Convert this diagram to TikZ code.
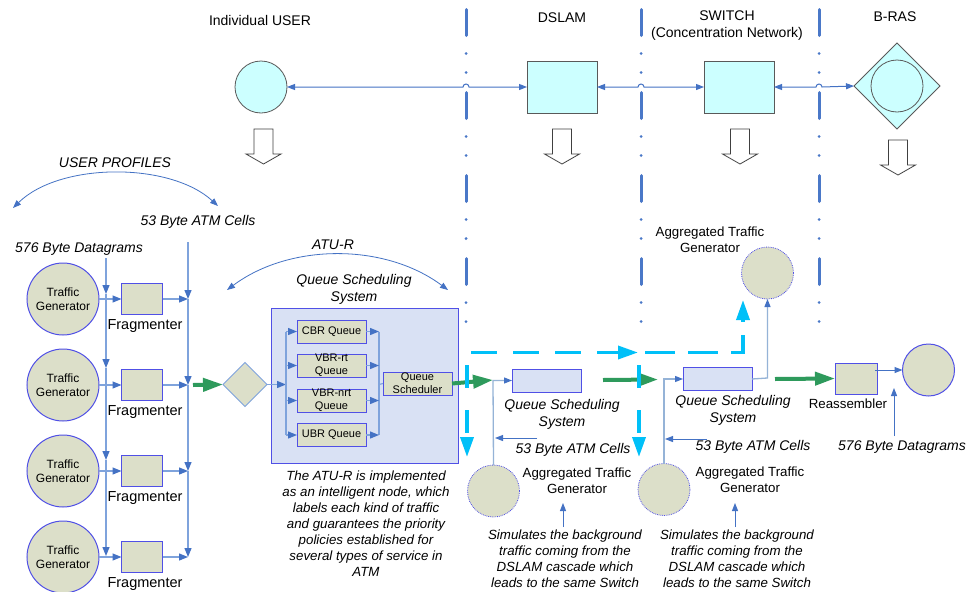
\documentclass[tikz,border=0pt]{standalone}
\usepackage{fontspec}
\setmainfont{Liberation Sans}
\usetikzlibrary{arrows.meta,shapes.geometric}
\definecolor{conn}{HTML}{4472C4}
\definecolor{lconn}{HTML}{7FA3DC}
\definecolor{aggc}{HTML}{95B3D7}
\definecolor{beige}{HTML}{DCDFC9}
\definecolor{nodeb}{HTML}{5050E6}
\definecolor{lav}{HTML}{D9E1F4}
\definecolor{cyanfill}{HTML}{CCFFFF}
\definecolor{cyanln}{HTML}{00C0F8}
\definecolor{greenln}{HTML}{2E9A5C}
\definecolor{bndry}{HTML}{4A78C8}
\begin{document}
\begin{tikzpicture}[x=1pt,y=-1pt,
  every node/.style={inner sep=0pt,outer sep=0pt},
  lbl/.style={font=\fontsize{14}{17}\selectfont,align=center},
  itl/.style={font=\fontsize{14}{17}\selectfont\itshape,align=center},
  itls/.style={font=\fontsize{13.3}{16}\selectfont\itshape,align=center},
  topcirc/.style={circle,draw=black!65,fill=cyanfill,minimum size=52pt,line width=0.8pt},
  topbox/.style={rectangle,draw=black!65,fill=cyanfill,minimum width=70pt,minimum height=52pt,line width=0.8pt},
  brasdia/.style={diamond,aspect=1,draw=black!65,fill=cyanfill,minimum width=86pt,minimum height=86pt,line width=0.8pt},
  tgen/.style={circle,draw=nodeb,fill=beige,minimum size=72pt,line width=1pt,font=\fontsize{12}{14}\selectfont,align=center},
  fragbox/.style={rectangle,draw=nodeb,fill=beige,minimum width=41pt,minimum height=31pt,line width=1pt},
  qbox/.style={rectangle,draw=nodeb,fill=beige,minimum width=69pt,minimum height=23pt,line width=1pt,font=\fontsize{11}{13}\selectfont,align=center},
  qssbox/.style={rectangle,draw=nodeb,fill=lav,minimum width=69pt,minimum height=23pt,line width=1pt},
  agen/.style={circle,draw=nodeb,densely dotted,fill=beige,minimum size=52pt,line width=0.8pt},
  endcirc/.style={circle,draw=nodeb,fill=beige,minimum size=52pt,line width=1pt},
  smalldia/.style={diamond,aspect=1,draw=lconn,fill=beige,minimum width=44pt,minimum height=44pt,line width=1pt},
  atubox/.style={rectangle,draw=nodeb,fill=lav,minimum width=187pt,minimum height=155pt,line width=1pt},
  cn/.style={draw=conn,line width=1pt},
  cna/.style={cn,-{Triangle[length=8pt,width=6pt]}},
  cnb/.style={cn,{Triangle[length=8pt,width=6pt]}-{Triangle[length=8pt,width=6pt]}},
  ln/.style={draw=lconn,line width=1.2pt},
  lna/.style={ln,-{Triangle[length=9pt,width=7pt,color=conn]}},
  ag/.style={draw=aggc,line width=1.3pt},
  aga/.style={ag,-{Triangle[length=8pt,width=6pt,color=conn]}},
  garrow/.style={draw=greenln,line width=4pt,-{Triangle[length=20pt,width=13pt]}},
  cyd/.style={draw=cyanln,line width=3.5pt,dash pattern=on 26pt off 16pt},
  cyda/.style={cyd,-{Triangle[length=20pt,width=13pt]}},
  bline/.style={draw=bndry,line width=3pt,line cap=round,dash pattern=on 26pt off 18pt on 0pt off 19pt on 0pt off 20pt},
  downarr/.pic={\draw[fill=white,draw=black!75,line width=0.8pt] (-9.5,0) -- (9.5,0) -- (9.5,25) -- (17.5,25) -- (0,35) -- (-17.5,25) -- (-9.5,25) -- cycle;}
]
\useasboundingbox (0,0) rectangle (970,592);
\fill[white] (0,0) rectangle (970,592);

% boundary lines
\draw[bline] (466,9.5) -- (466,322);
\draw[bline] (641,9.5) -- (641,322);
\draw[bline] (819,9.5) -- (819,322);

% top row
\node[lbl] (tuser) at (260,20) {Individual USER};
\node[lbl] (tdslam) at (562,18) {DSLAM};
\node[lbl] (tswitch) at (727,25.5) {SWITCH\\(Concentration Network)};
\node[lbl] (tbras) at (895,17) {B-RAS};

\node[topcirc] (user) at (261,87) {};
\node[topbox] (dslam) at (562,87) {};
\node[topbox] (switch) at (739,87) {};
\node[brasdia] (bras) at (897,86) {};
\node[circle,draw=black!65,line width=0.8pt,minimum size=52pt] (brasc) at (897,86) {};

\draw[cnb] (user.east) -- (463,87) arc[start angle=180,end angle=0,radius=3pt] -- (dslam.west);
\draw[cnb] (dslam.east) -- (638,87) arc[start angle=180,end angle=0,radius=3pt] -- (switch.west);
\draw[cnb] (switch.east) -- (816,87) arc[start angle=180,end angle=0,radius=3pt] -- (bras.west);

\pic at (263.5,129) {downarr};
\pic at (562,129) {downarr};
\pic at (740,129) {downarr};
\pic at (898,140) {downarr};

% user profiles
\node[itl] (tprof) at (115,163) {USER PROFILES};
\coordinate (up1) at (13,208);
\coordinate (up2) at (218,206);
\draw[cnb,line width=0.8pt] (up1) .. controls (60,162) and (170,162) .. (up2);
\node[itl] (atm1) at (198,222) {53 Byte ATM Cells};
\node[itl] (dg1) at (79,249) {576 Byte Datagrams};

% traffic generators and fragmenters
\foreach \i/\y in {1/299,2/385,3/471,4/557}{
  \node[tgen] (tg\i) at (63,\y) {Traffic\\Generator};
  \node[fragbox] (f\i) at (142,\y) {};
  \node[lbl,font=\fontsize{14.5}{17}\selectfont] (fl\i) at (145,\y+27) {Fragmenter};
  \draw[lna] (tg\i.east) -- (f\i.west);
  \coordinate (r\i) at (188,\y);
  \draw[lna] (f\i.east) -- (r\i);
}
\coordinate (vl0) at (106,258);
\draw[lna] (vl0) -- (106,294);
\draw[lna] (106,294) -- (106,368);
\draw[lna] (106,368) -- (106,460);
\draw[lna] (106,460) -- (106,556);
\coordinate (vr0) at (188,242);
\draw[lna] (vr0) -- (r1);
\draw[lna] (r1) -- (r2);
\draw[lna] (r2) -- (r3);
\draw[lna] (r3) -- (r4);

% green into diamond
\node[smalldia] (dia) at (245,384.5) {};
\coordinate (g1s) at (193,385);
\draw[garrow] (g1s) -- (dia.west);

% ATU-R
\node[itl] (tatur) at (333,245) {ATU-R};
\coordinate (at1) at (227,290);
\coordinate (at2) at (448,290);
\draw[cnb,line width=0.8pt] (at1) .. controls (290,243) and (385,243) .. (at2);
\node[itl] (tqss) at (354,289) {Queue Scheduling\\System};
\node[atubox] (atu) at (364.5,385.5) {};
\node[qbox] (q1) at (331.5,331.5) {CBR Queue};
\node[qbox] (q2) at (331.5,365.5) {VBR-rt\\Queue};
\node[qbox] (q3) at (331.5,400.5) {VBR-nrt\\Queue};
\node[qbox] (q4) at (331.5,435) {UBR Queue};
\node[qbox] (sched) at (417.5,383.5) {Queue\\Scheduler};
\coordinate (ja) at (286,384.5);
\draw[lna] (dia.east) -- (ja);
\draw[ln] (286,331.5) -- (286,435);
\coordinate (jb) at (379,384.5);
\draw[ln] (379,331.5) -- (379,435);
\draw[ln] (jb) -- (sched.west);
\foreach \i/\y in {1/331.5,2/365.5,3/400.5,4/435}{
  \draw[lna] (286,\y) -- (q\i.west);
  \draw[lna] (q\i.east) -- (379,\y);
}
\node[itls] (tdesc) at (366,524) {The ATU-R is implemented\\as an intelligent node, which\\labels each kind of traffic\\and guarantees the priority\\policies established for\\several types of service in\\ATM};

% DSLAM level
\node[qssbox] (qs1) at (546.5,380.5) {};
\node[itl] (tqs1) at (562,414) {Queue Scheduling\\System};
\coordinate (g2e) at (493,380);
\draw[garrow] (sched.east) -- (g2e);
\node[agen] (ag1) at (493.5,491) {};
\draw[aga] (ag1.north) -- (493,380.5) -- (qs1.west);
\node[itl] (atm2) at (573,450) {53 Byte ATM Cells};
\coordinate (a2s) at (537,438);
\coordinate (a2e) at (495,438);
\draw[cna] (a2s) -- (a2e);
\node[lbl,font=\fontsize{13.3}{16}\selectfont] (tag1) at (577,481) {Aggregated Traffic\\Generator};
\node[itls] (sim1) at (565,559) {Simulates the background\\traffic coming from the\\DSLAM cascade which\\leads to the same Switch};
\coordinate (s1s) at (563,527);
\coordinate (s1e) at (563,503);
\draw[cna] (s1s) -- (s1e);

% SWITCH level
\node[qssbox] (qs2) at (717.5,379) {};
\node[itl] (tqs2) at (733,410.5) {Queue Scheduling\\System};
\coordinate (g3s) at (603,380);
\coordinate (g3e) at (658,379.5);
\draw[garrow] (g3s) -- (g3e);
\node[agen] (ag2) at (664,489.5) {};
\draw[aga] (ag2.north) -- (664,379) -- (qs2.west);
\node[itl] (atm3) at (753,447) {53 Byte ATM Cells};
\coordinate (a3s) at (707,439);
\coordinate (a3e) at (665,439);
\draw[cna] (a3s) -- (a3e);
\node[lbl,font=\fontsize{13.3}{16}\selectfont] (tag2) at (750,480) {Aggregated Traffic\\Generator};
\node[itls] (sim2) at (737,559) {Simulates the background\\traffic coming from the\\DSLAM cascade which\\leads to the same Switch};
\coordinate (s2s) at (735,527);
\coordinate (s2e) at (735,503);
\draw[cna] (s2s) -- (s2e);

\node[agen] (ag3) at (767.5,273) {};
\node[lbl,font=\fontsize{13.3}{16}\selectfont] (tag3) at (710,239.5) {Aggregated Traffic\\Generator};
\draw[aga] (qs2.east) -- (767.5,378) -- (ag3.south);

% B-RAS level
\node[fragbox,minimum width=42pt] (reas) at (856,378.5) {};
\node[lbl,font=\fontsize{13.3}{16}\selectfont] (treas) at (848,404) {Reassembler};
\coordinate (g4s) at (775,379);
\draw[garrow] (g4s) -- (reas.west);
\node[endcirc] (endc) at (928.5,370) {};
\draw[cna] (875,370) -- (endc.west);
\node[itl] (dg2) at (902,447) {576 Byte Datagrams};
\coordinate (d2s) at (894,436);
\coordinate (d2e) at (894,388);
\draw[cna] (d2s) -- (d2e);

% cyan dashed
\coordinate (c1s) at (471,352.5);
\coordinate (c1e) at (638,352.5);
\draw[cyda] (c1s) -- (c1e);
\coordinate (c2s) at (645,352.5);
\coordinate (c2e) at (743,300);
\draw[cyda,dash pattern=on 30pt off 13pt] (c2s) -- (743,352.5) -- (c2e);
\coordinate (c3s) at (467,365);
\coordinate (c3e) at (467,457);
\draw[cyda,dash pattern=on 23pt off 22pt] (c3s) -- (c3e);
\coordinate (c4s) at (639,365);
\coordinate (c4e) at (639,457);
\draw[cyda,dash pattern=on 23pt off 22pt] (c4s) -- (c4e);
\end{tikzpicture}
\end{document}
